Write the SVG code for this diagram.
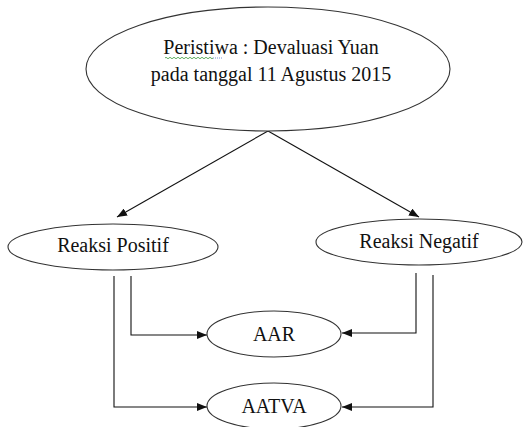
<svg xmlns="http://www.w3.org/2000/svg" width="528" height="427" viewBox="0 0 528 427">
<style>
.node ellipse{fill:#fff;stroke:#333;stroke-width:1.1}
.node text{font-size:20px;fill:#111;text-anchor:middle}
.edge{fill:none;stroke:#111;stroke-width:1.1}
</style>
<defs>
<marker id="ah" viewBox="0 0 10 8" refX="10" refY="4" markerWidth="10" markerHeight="8" markerUnits="userSpaceOnUse" orient="auto">
<path d="M0,0 L10,4 L0,8 Z" fill="#111"/>
</marker>
</defs>
<rect width="528" height="427" fill="#fff"/>
<g id="connectors">
<path class="edge" d="M268,131 L117,217" marker-end="url(#ah)"/>
<path class="edge" d="M268,131 L419,217" marker-end="url(#ah)"/>
<path class="edge" d="M131,276 V335 H207" marker-end="url(#ah)"/>
<path class="edge" d="M114,276 V407 H207" marker-end="url(#ah)"/>
<path class="edge" d="M416,273 V333 H342" marker-end="url(#ah)"/>
<path class="edge" d="M433,275 V407 H342" marker-end="url(#ah)"/>
</g>
<g font-family="Liberation Serif, DejaVu Serif, serif">
<g id="peristiwa" class="node">
<ellipse cx="268" cy="69" rx="182" ry="62"/>
<text x="271" y="54">Peristiwa : Devaluasi  Yuan</text>
<text x="271" y="81">pada tanggal 11 Agustus 2015</text>
<path d="M165,58 q1,-1.5 2,0 t2,0 t2,0 t2,0 t2,0 t2,0 t2,0 t2,0 t2,0 t2,0 t2,0 t2,0 t2,0 t2,0 t2,0 t2,0 t2,0 t2,0 t2,0 t2,0 t2,0 t2,0 t2,0 t2,0" fill="none" stroke="#3a9a3a" stroke-width="0.8"/>
<path d="M213,58 h9" fill="none" stroke="#5577cc" stroke-width="0.8" stroke-dasharray="1,1"/>
</g>
<g id="reaksi-positif" class="node">
<ellipse cx="113" cy="247" rx="105" ry="23"/>
<text x="113" y="252">Reaksi Positif</text>
</g>
<g id="reaksi-negatif" class="node">
<ellipse cx="419" cy="242" rx="103" ry="23"/>
<text x="419" y="248">Reaksi Negatif</text>
</g>
<g id="aar" class="node">
<ellipse cx="274" cy="334" rx="67" ry="23"/>
<text x="274" y="341">AAR</text>
</g>
<g id="aatva" class="node">
<ellipse cx="274" cy="406" rx="67" ry="23"/>
<text x="274" y="413">AATVA</text>
</g>
</g>
</svg>
